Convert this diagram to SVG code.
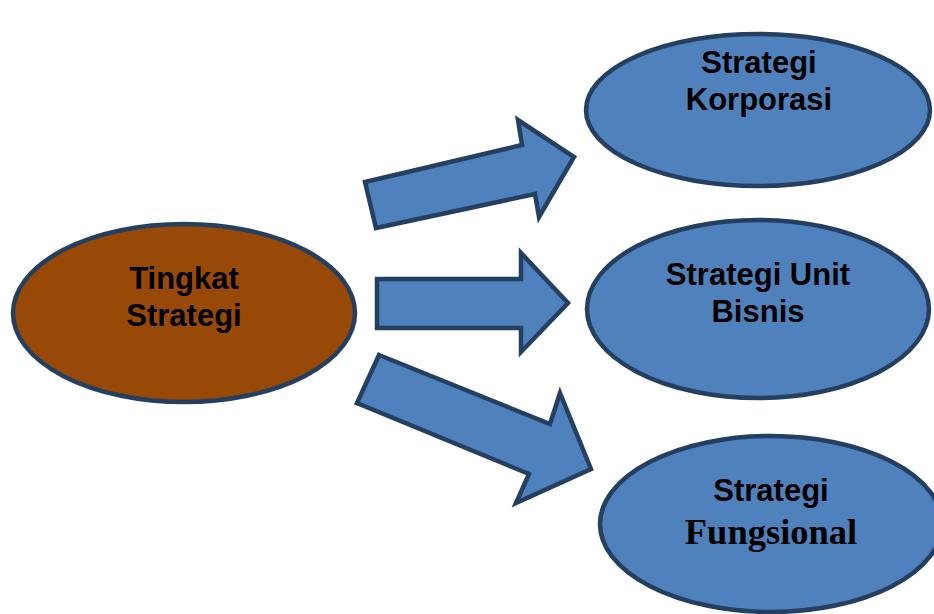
<svg xmlns="http://www.w3.org/2000/svg" width="934" height="614" viewBox="0 0 934 614">
<style>
.node{stroke:#243f60;stroke-width:4.5}
.blue{fill:#4f81bd}
.brown{fill:#984807}
.arrow{fill:#4f81bd;stroke:#243f60;stroke-width:4.5;stroke-linejoin:miter}
.t{font-family:"Liberation Sans",Arial,sans-serif;font-weight:bold;font-size:31px;fill:#000;text-anchor:middle}
.s{font-family:"Liberation Serif","Times New Roman",serif;font-weight:bold;font-size:36.5px;fill:#000;text-anchor:middle}
</style>
<rect width="934" height="614" fill="#fff"/>
<g id="connectors">
<polygon class="arrow" points="365,182 522,145 518,120 574,157 539,217 535,194 376,228"/>
<polygon class="arrow" points="377,279 521,279 521,253 568,303 521,352 521,328 377,328"/>
<polygon class="arrow" points="379,355 550,424 560,393 591,469 516,503 529,474 357,403"/>
</g>
<g id="tingkat">
<ellipse class="node brown" cx="184" cy="313" rx="171" ry="89"/>
<text class="t" x="184" y="289">Tingkat</text>
<text class="t" x="184" y="326">Strategi</text>
</g>
<g id="korporasi">
<ellipse class="node blue" cx="758" cy="110" rx="172" ry="76"/>
<text class="t" x="759" y="73">Strategi</text>
<text class="t" x="759" y="110">Korporasi</text>
</g>
<g id="unitbisnis">
<ellipse class="node blue" cx="758" cy="309" rx="171" ry="89"/>
<text class="t" x="758" y="285">Strategi Unit</text>
<text class="t" x="758" y="322">Bisnis</text>
</g>
<g id="fungsional">
<ellipse class="node blue" cx="771" cy="524" rx="171" ry="88"/>
<text class="t" x="771" y="501">Strategi</text>
<text class="s" x="771" y="544">Fungsional</text>
</g>
</svg>
